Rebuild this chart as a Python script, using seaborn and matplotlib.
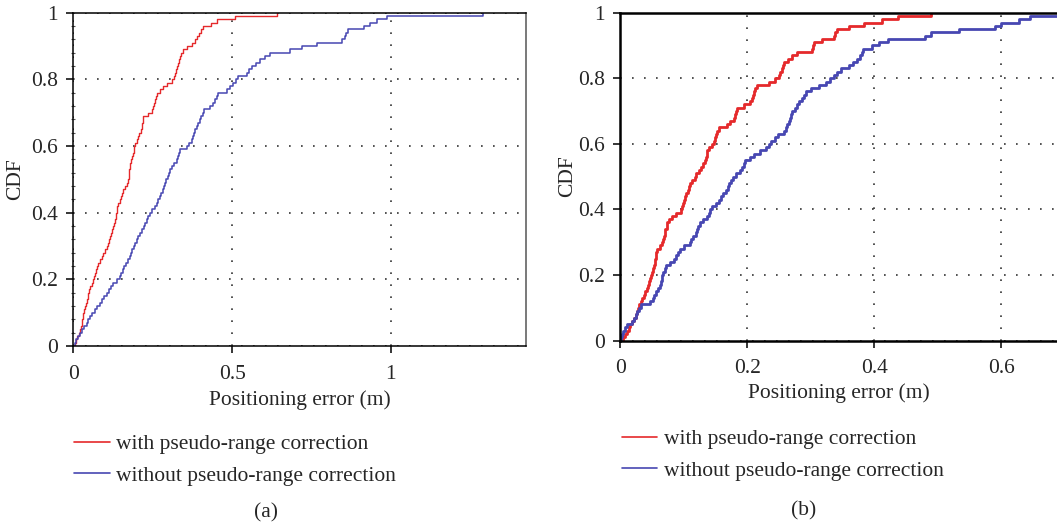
import matplotlib
matplotlib.use('Agg')
import matplotlib.pyplot as plt
import numpy as np
import seaborn as sns
from matplotlib.ticker import FixedLocator, MultipleLocator

# Positioning errors (m) (100 samples each)
err_a_with = [
    0.004, 0.008, 0.013, 0.017, 0.021, 0.023, 0.026, 0.028, 0.030, 0.032,
    0.035, 0.037, 0.040, 0.042, 0.045, 0.047, 0.050, 0.054, 0.059, 0.063,
    0.066, 0.069, 0.072, 0.076, 0.079, 0.084, 0.089, 0.094, 0.099, 0.105,
    0.110, 0.113, 0.116, 0.120, 0.123, 0.126, 0.128, 0.130, 0.133, 0.135,
    0.137, 0.139, 0.142, 0.146, 0.150, 0.153, 0.157, 0.162, 0.168, 0.173,
    0.174, 0.175, 0.176, 0.177, 0.178, 0.182, 0.185, 0.189, 0.191, 0.192,
    0.194, 0.200, 0.205, 0.208, 0.212, 0.215, 0.217, 0.218, 0.220, 0.234,
    0.247, 0.250, 0.253, 0.256, 0.259, 0.262, 0.272, 0.283, 0.294, 0.312,
    0.316, 0.320, 0.323, 0.327, 0.330, 0.333, 0.337, 0.340, 0.344, 0.357,
    0.375, 0.382, 0.388, 0.395, 0.402, 0.409, 0.432, 0.452, 0.510, 0.640,
]
err_a_without = [
    0.005, 0.010, 0.016, 0.021, 0.028, 0.035, 0.042, 0.047, 0.053, 0.058,
    0.068, 0.076, 0.084, 0.091, 0.098, 0.105, 0.112, 0.119, 0.126, 0.137,
    0.147, 0.151, 0.156, 0.160, 0.166, 0.172, 0.178, 0.182, 0.186, 0.190,
    0.194, 0.199, 0.205, 0.210, 0.215, 0.221, 0.226, 0.231, 0.236, 0.241,
    0.249, 0.257, 0.262, 0.268, 0.273, 0.277, 0.281, 0.285, 0.289, 0.293,
    0.297, 0.300, 0.304, 0.311, 0.318, 0.325, 0.329, 0.332, 0.336, 0.357,
    0.365, 0.373, 0.376, 0.380, 0.383, 0.388, 0.394, 0.399, 0.403, 0.407,
    0.411, 0.430, 0.441, 0.446, 0.452, 0.457, 0.483, 0.494, 0.504, 0.512,
    0.519, 0.546, 0.553, 0.561, 0.575, 0.588, 0.603, 0.619, 0.682, 0.720,
    0.766, 0.845, 0.855, 0.859, 0.866, 0.915, 0.935, 0.955, 0.986, 1.290,
]
err_b_with = [
    0.004, 0.007, 0.010, 0.013, 0.016, 0.019, 0.021, 0.024, 0.026, 0.028,
    0.030, 0.032, 0.034, 0.037, 0.039, 0.042, 0.044, 0.045, 0.047, 0.049,
    0.050, 0.052, 0.053, 0.054, 0.055, 0.056, 0.057, 0.058, 0.062, 0.066,
    0.067, 0.069, 0.070, 0.071, 0.073, 0.074, 0.076, 0.082, 0.087, 0.095,
    0.097, 0.098, 0.100, 0.102, 0.104, 0.106, 0.108, 0.110, 0.113, 0.117,
    0.120, 0.124, 0.127, 0.131, 0.134, 0.135, 0.136, 0.137, 0.140, 0.145,
    0.147, 0.149, 0.151, 0.153, 0.155, 0.168, 0.173, 0.179, 0.181, 0.182,
    0.184, 0.195, 0.205, 0.207, 0.209, 0.211, 0.213, 0.216, 0.235, 0.243,
    0.250, 0.252, 0.254, 0.256, 0.258, 0.264, 0.271, 0.279, 0.302, 0.304,
    0.305, 0.318, 0.337, 0.339, 0.342, 0.360, 0.384, 0.412, 0.437, 0.490,
]
err_b_without = [
    0.001, 0.002, 0.004, 0.007, 0.010, 0.018, 0.021, 0.024, 0.027, 0.030,
    0.032, 0.047, 0.051, 0.053, 0.056, 0.060, 0.063, 0.064, 0.065, 0.066,
    0.068, 0.070, 0.072, 0.078, 0.084, 0.088, 0.091, 0.094, 0.101, 0.110,
    0.112, 0.115, 0.119, 0.121, 0.123, 0.125, 0.131, 0.137, 0.140, 0.142,
    0.145, 0.150, 0.155, 0.159, 0.162, 0.166, 0.169, 0.172, 0.174, 0.178,
    0.182, 0.189, 0.192, 0.195, 0.197, 0.204, 0.211, 0.220, 0.229, 0.234,
    0.238, 0.243, 0.248, 0.258, 0.261, 0.263, 0.265, 0.267, 0.269, 0.271,
    0.275, 0.279, 0.282, 0.286, 0.290, 0.293, 0.300, 0.313, 0.324, 0.331,
    0.336, 0.341, 0.347, 0.360, 0.367, 0.373, 0.378, 0.380, 0.382, 0.397,
    0.408, 0.421, 0.480, 0.489, 0.534, 0.590, 0.600, 0.628, 0.645, 0.700,
]

series_labels = ['with pseudo-range correction', 'without pseudo-range correction']
series_colors = ['#e5292b', '#4747b2']

y_ticks = [0, 0.2, 0.4, 0.6, 0.8, 1]
y_ticklabels = ['0', '0.2', '0.4', '0.6', '0.8', '1']
xa_ticks = [0, 0.5, 1]
xa_ticklabels = ['0', '0.5', '1']
xb_ticks = [0, 0.2, 0.4, 0.6]
xb_ticklabels = ['0', '0.2', '0.4', '0.6']

sns.set_style('white')
plt.rcParams['font.family'] = ['Liberation Serif', 'DejaVu Serif']
FS = 15.5

fig = plt.figure(figsize=(10.57, 5.27), dpi=100)
W, H = 1057, 527
ax_a = fig.add_axes([73.3 / W, 1 - 346 / H, (526 - 73.3) / W, (346 - 12.7) / H])
ax_b = fig.add_axes([620.3 / W, 1 - 340.5 / H, 1 - 620.3 / W, (340.5 - 12.7) / H])

grid_kw = dict(color='#333333', linestyle=(0, (1, 6.2)), linewidth=1.2)


def style_axes(ax, xticks, xticklabels, xmax, lw_spine, xpad, xlabelpad, ylabelpad):
    ax.set_xlim(0, xmax)
    ax.set_ylim(0, 1)
    ax.xaxis.set_major_locator(FixedLocator(xticks))
    ax.set_xticklabels(xticklabels)
    ax.yaxis.set_major_locator(FixedLocator(y_ticks))
    ax.set_yticklabels(y_ticklabels)
    ax.grid(True, **grid_kw)
    ax.set_axisbelow(True)
    ax.tick_params(axis='both', which='major', direction='out', length=5,
                   width=1.1, color='black', labelsize=FS, bottom=True, left=True)
    ax.tick_params(axis='x', pad=xpad)
    ax.tick_params(axis='y', pad=6)
    for s in ax.spines.values():
        s.set_color('black')
        s.set_linewidth(lw_spine)
    ax.set_ylabel('CDF', fontsize=FS, labelpad=ylabelpad)
    ax.set_xlabel('Positioning error (m)', fontsize=FS, labelpad=xlabelpad)


# (a)
sns.ecdfplot(x=err_a_with, ax=ax_a, color=series_colors[0], linewidth=1.0,
             label=series_labels[0])
sns.ecdfplot(x=err_a_without, ax=ax_a, color=series_colors[1], linewidth=1.1,
             label=series_labels[1])
style_axes(ax_a, xa_ticks, xa_ticklabels, 1.425, 1.1, 9, 4, 4)
ax_a.spines['right'].set_color('#555555')
ax_a.yaxis.set_minor_locator(MultipleLocator(0.04))
ax_a.tick_params(axis='y', which='minor', direction='inout', length=3,
                 width=0.8, color='#555555', left=True)

# (b)
sns.ecdfplot(x=err_b_with, ax=ax_b, color=series_colors[0], linewidth=2.0,
             label=series_labels[0])
sns.ecdfplot(x=err_b_without, ax=ax_b, color=series_colors[1], linewidth=2.0,
             label=series_labels[1])
style_axes(ax_b, xb_ticks, xb_ticklabels, 0.688, 1.8, 8, 4, 1)
ax_b.spines['right'].set_visible(False)

# legends below each panel
for ax, anchor in [(ax_a, (74 / W, 1 - 434 / H)), (ax_b, (621.7 / W, 1 - 429 / H))]:
    leg = ax.legend(loc='upper left', bbox_to_anchor=anchor,
                    bbox_transform=fig.transFigure, frameon=False, fontsize=FS,
                    handlelength=1.65, handletextpad=0.3, labelspacing=0.55,
                    borderpad=0, borderaxespad=0)
    for h in leg.get_lines():
        h.set_linewidth(1.2)

fig.text(266 / W, 1 - 513 / H, '(a)', ha='center', va='center', fontsize=FS)
fig.text(804 / W, 1 - 511 / H, '(b)', ha='center', va='center', fontsize=FS)

fig.savefig('out.png', dpi=100)
